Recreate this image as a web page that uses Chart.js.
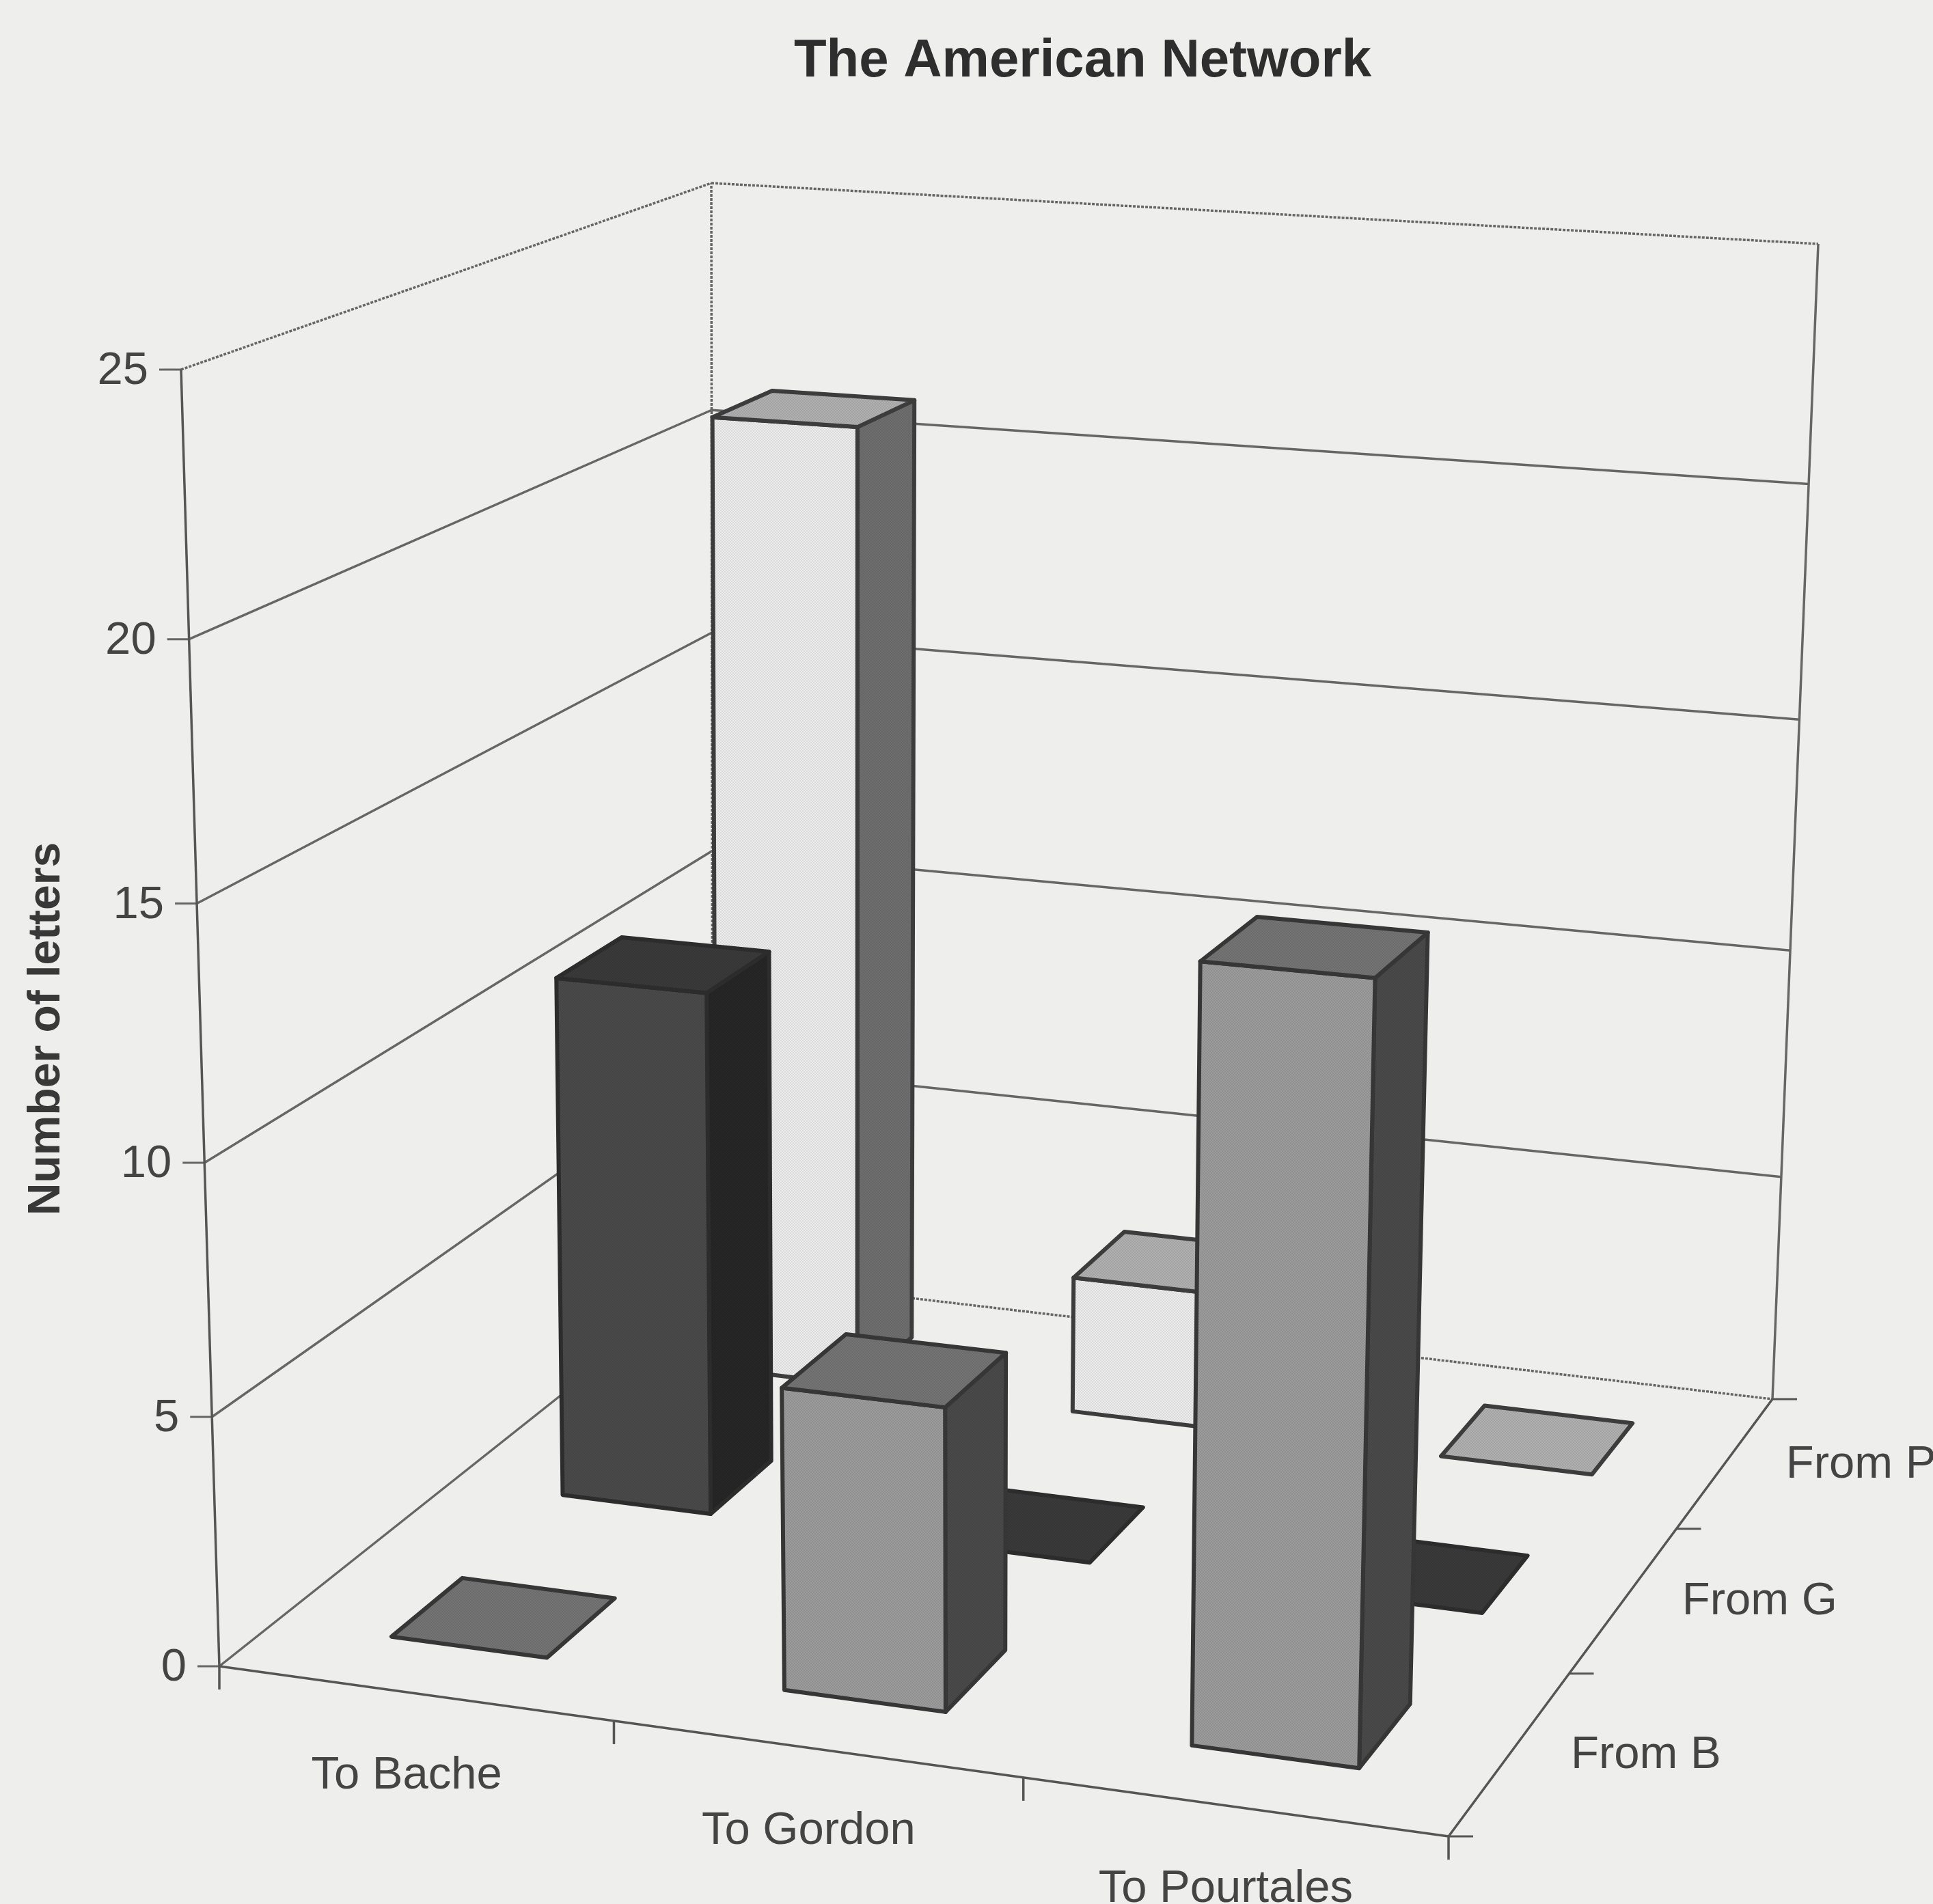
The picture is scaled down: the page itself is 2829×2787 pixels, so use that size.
<!DOCTYPE html>
<html>
<head>
<meta charset="utf-8">
<title>The American Network</title>
<script src="https://cdn.jsdelivr.net/npm/chart.js@4"></script>
<style>
    html, body { margin: 0; padding: 0; background: #eeeeed; }
    canvas { display: block; }
</style>
</head>
<body>
<canvas id="chart-network" width="2829" height="2787"></canvas>
<script>
const categories = ['To Bache', 'To Gordon', 'To Pourtales'];
const senders = ['From B', 'From G', 'From P'];
const fromB = [0, 6, 15];
const fromG = [11, 0, 0];
const fromP = [21, 3, 0];
const valueTicks = [0, 5, 10, 15, 20, 25];

// corners of the plot box on screen, order: front left, front right, back right, back left
const FLOOR_CORNERS = [[321, 2439], [2120, 2688], [2594, 2048], [1043, 1866]];
const TOP_CORNERS = [[265, 541], [2172, 673], [2661, 357], [1041, 268]];
// lower value gridlines are packed a little tighter than the upper ones
const HEIGHT_BEND = 0.05;

const FACES = [
    { front: '#9b9b9b', top: '#747474', side: '#4a4a4a', edge: '#363636' },
    { front: '#4a4a4a', top: '#3a3a3a', side: '#262626', edge: '#2c2c2c' },
    { front: '#ececec', top: '#b0b0b0', side: '#6e6e6e', edge: '#3c3c3c' }
];

const BAR_DEPTH = 0.40;
const LINE_COLOR = '#666666';
const AXIS_COLOR = '#555555';
const TEXT_COLOR = '#444444';
const FONT = '"Liberation Sans", Arial, sans-serif';

// unit square -> quadrilateral, (u, w) goes to screen
function quadMap(corners) {
    const [[x0, y0], [x1, y1], [x2, y2], [x3, y3]] = corners;
    const dx1 = x1 - x2, dx2 = x3 - x2, sx = x0 - x1 + x2 - x3;
    const dy1 = y1 - y2, dy2 = y3 - y2, sy = y0 - y1 + y2 - y3;
    const det = dx1 * dy2 - dx2 * dy1;
    const g = (sx * dy2 - dx2 * sy) / det;
    const h = (dx1 * sy - sx * dy1) / det;
    const a = x1 - x0 + g * x1, b = x3 - x0 + h * x3;
    const d = y1 - y0 + g * y1, e = y3 - y0 + h * y3;
    return (u, w) => {
        const q = g * u + h * w + 1;
        return [(a * u + b * w + x0) / q, (d * u + e * w + y0) / q];
    };
}

const floorMap = quadMap(FLOOR_CORNERS);
const topMap = quadMap(TOP_CORNERS);

// (u, v, w) in the unit box -> screen
function project(u, v, w) {
    const t = v / (1 + HEIGHT_BEND * (1 - v));
    const f = floorMap(u, w);
    const c = topMap(u, w);
    return [f[0] + (c[0] - f[0]) * t, f[1] + (c[1] - f[1]) * t];
}

function stipple(ctx, base) {
    // fine halftone dots of the printed fills
    const tile = document.createElement('canvas');
    tile.width = tile.height = 4;
    const t = tile.getContext('2d');
    t.fillStyle = base;
    t.fillRect(0, 0, 4, 4);
    t.fillStyle = 'rgba(0,0,0,0.07)';
    t.fillRect(0, 0, 2, 2);
    t.fillRect(2, 2, 2, 2);
    return ctx.createPattern(tile, 'repeat');
}

function line(ctx, p, q, color, width, dash) {
    ctx.strokeStyle = color;
    ctx.lineWidth = width;
    ctx.setLineDash(dash || []);
    ctx.beginPath();
    ctx.moveTo(p[0], p[1]);
    ctx.lineTo(q[0], q[1]);
    ctx.stroke();
    ctx.setLineDash([]);
}

function polygon(ctx, pts, fill, edge) {
    ctx.beginPath();
    pts.forEach((p, i) => i ? ctx.lineTo(p[0], p[1]) : ctx.moveTo(p[0], p[1]));
    ctx.closePath();
    ctx.fillStyle = fill;
    ctx.fill();
    ctx.strokeStyle = edge;
    ctx.lineWidth = 6;
    ctx.lineJoin = 'round';
    ctx.stroke();
}

function label(ctx, text, x, y, align) {
    ctx.fillStyle = TEXT_COLOR;
    ctx.font = '67px ' + FONT;
    ctx.textAlign = align;
    ctx.textBaseline = 'middle';
    ctx.fillText(text, x, y);
}

function drawFrame(chart, ctx) {
    const yScale = chart.scales.y;
    const xScale = chart.scales.x;
    const zScale = chart.scales.z;
    const area = chart.chartArea;
    const dotted = [4, 2];
    ctx.save();
    ctx.lineCap = 'butt';

    // walls: gridlines at each value tick, the rim and the far floor edge come out dotted
    yScale.ticks.forEach(t => {
        const v = (area.bottom - yScale.getPixelForValue(t.value)) / area.height;
        const rim = t.value === yScale.max || t.value === yScale.min;
        const corner = project(0, v, 1);
        const p = project(0, v, 0);
        line(ctx, p, corner, LINE_COLOR, 3.5, t.value === yScale.max ? dotted : null);
        line(ctx, corner, project(1, v, 1), LINE_COLOR, 3.5, rim ? dotted : null);
        line(ctx, [p[0] - 32, p[1]], p, LINE_COLOR, 3);
        label(ctx, String(t.value), p[0] - 48, p[1] + 3, 'right');
    });
    line(ctx, project(0, 0, 0), project(0, 1, 0), AXIS_COLOR, 3.5);
    line(ctx, project(0, 0, 1), project(0, 1, 1), LINE_COLOR, 3.5, dotted);
    line(ctx, project(1, 0, 1), project(1, 1, 1), LINE_COLOR, 3.5);

    // floor edges
    line(ctx, project(0, 0, 0), project(1, 0, 0), AXIS_COLOR, 3.5);
    line(ctx, project(1, 0, 0), project(1, 0, 1), AXIS_COLOR, 3.5);

    // category ticks and labels on the front edge
    const nx = categories.length, nz = senders.length;
    for (let i = 0; i <= nx; i++) {
        const p = project(i / nx, 0, 0);
        line(ctx, p, [p[0], p[1] + 34], AXIS_COLOR, 3.5);
    }
    categories.forEach((name, i) => {
        const u = (xScale.getPixelForValue(i) - area.left) / area.width;
        const p = project(u, 0, 0);
        label(ctx, name, p[0] - 12, p[1] + 121, 'center');
    });

    // sender ticks and labels on the right edge
    for (let i = 0; i <= nz; i++) {
        const p = project(1, 0, i / nz);
        line(ctx, p, [p[0] + 36, p[1]], AXIS_COLOR, 3);
    }
    senders.forEach((name, i) => {
        const w = (zScale.getPixelForValue(i) - zScale.left) / zScale.width;
        const p = project(1, 0, w);
        label(ctx, name, p[0] + 198, p[1] + 4, 'center');
    });

    // rotated value axis title
    ctx.save();
    ctx.translate(69, 1506);
    ctx.rotate(-Math.PI / 2);
    ctx.fillStyle = '#383838';
    ctx.font = 'bold 66px ' + FONT;
    ctx.textAlign = 'center';
    ctx.textBaseline = 'middle';
    ctx.fillText('Number of letters', 0, 0);
    ctx.restore();
    ctx.restore();
}

function drawBar(chart, ctx, bar, w, face) {
    const area = chart.chartArea;
    const u0 = (bar.x - bar.width / 2 - area.left) / area.width;
    const u1 = (bar.x + bar.width / 2 - area.left) / area.width;
    const v1 = (area.bottom - bar.y) / area.height;
    const v0 = (area.bottom - bar.base) / area.height;
    const cell = BAR_DEPTH / senders.length;
    const w0 = w - cell / 2, w1 = w + cell / 2;

    if (v1 > v0) {
        polygon(ctx, [project(u1, v0, w0), project(u1, v0, w1), project(u1, v1, w1), project(u1, v1, w0)], stipple(ctx, face.side), face.edge);
        polygon(ctx, [project(u0, v0, w0), project(u1, v0, w0), project(u1, v1, w0), project(u0, v1, w0)], stipple(ctx, face.front), face.edge);
    }
    polygon(ctx, [project(u0, v1, w0), project(u1, v1, w0), project(u1, v1, w1), project(u0, v1, w1)], stipple(ctx, face.top), face.edge);
}

const perspectiveBars = {
    id: 'perspectiveBars',
    beforeDatasetsDraw(chart) {
        const ctx = chart.ctx;
        const zScale = chart.scales.z;
        drawFrame(chart, ctx);
        // back row first, and left to right inside a row, so nearer bars cover farther ones
        for (let d = chart.data.datasets.length - 1; d >= 0; d--) {
            const w = (zScale.getPixelForValue(d) - zScale.left) / zScale.width;
            chart.getDatasetMeta(d).data.forEach(bar => drawBar(chart, ctx, bar, w, FACES[d]));
        }
        return false;
    }
};

new Chart(document.getElementById('chart-network').getContext('2d'), {
    type: 'bar',
    data: {
        labels: categories,
        datasets: [
            { label: senders[0], data: fromB },
            { label: senders[1], data: fromG },
            { label: senders[2], data: fromP }
        ]
    },
    options: {
        responsive: false,
        animation: false,
        layout: { padding: { left: 340, top: 44 } },
        datasets: { bar: { grouped: false, categoryPercentage: 1, barPercentage: 0.40 } },
        scales: {
            x: { type: 'category', offset: true, display: false },
            y: { type: 'linear', min: 0, max: 25, display: false, afterBuildTicks: s => { s.ticks = valueTicks.map(value => ({ value })); } },
            z: { type: 'category', axis: 'x', labels: senders, offset: true, display: false }
        },
        plugins: {
            legend: { display: false },
            tooltip: { enabled: false },
            title: {
                display: true,
                text: 'The American Network',
                color: '#2e2e2e',
                font: { family: FONT, size: 78, weight: 'bold' },
                padding: 0
            }
        }
    },
    plugins: [perspectiveBars]
});
</script>
</body>
</html>
